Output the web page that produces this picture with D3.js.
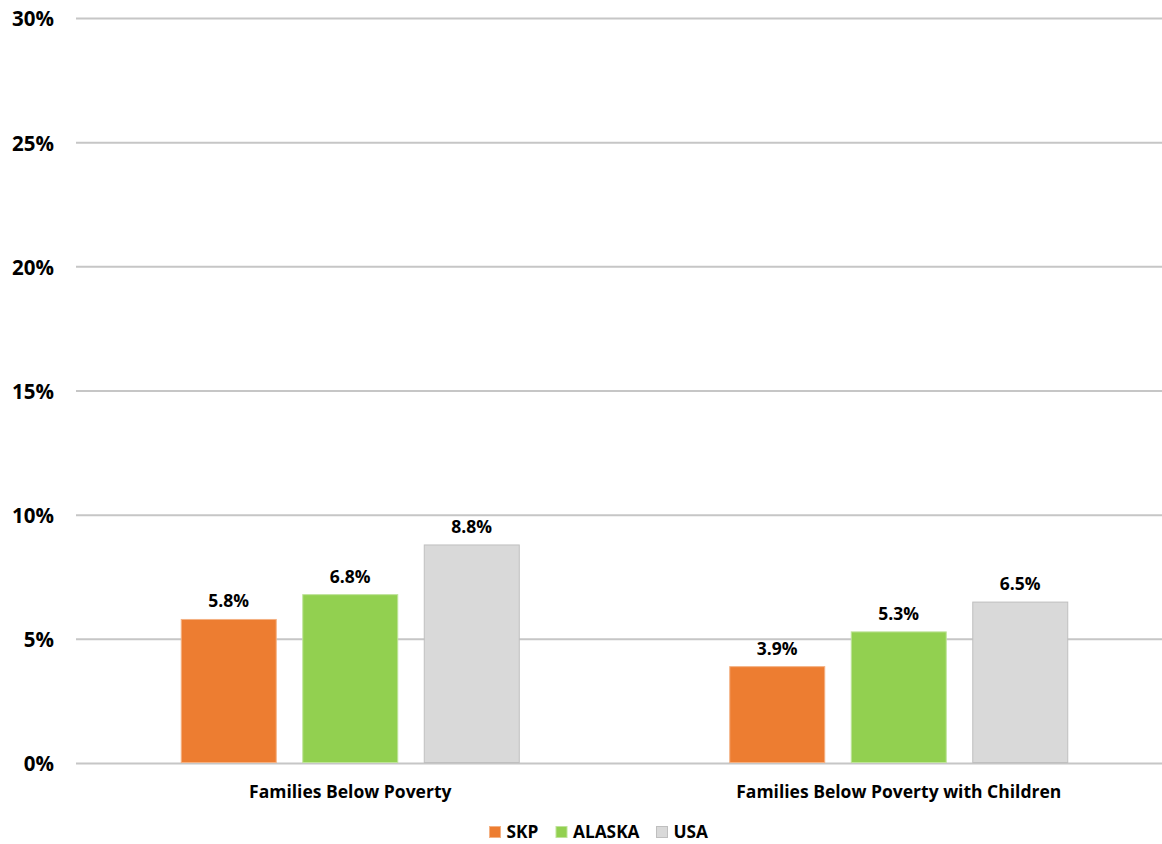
<!DOCTYPE html>
<html>
<head>
<meta charset="utf-8">
<script src="https://cdn.jsdelivr.net/npm/d3@7"></script>
<style>
  html, body { margin: 0; padding: 0; background: #ffffff; }
  svg { display: block; font-family: "Open Sans", Lato, sans-serif; font-weight: bold; }
</style>
</head>
<body>
<svg id="chart" width="1162" height="844"></svg>
<script>
// Family poverty rates by area
const categories = ["Families Below Poverty", "Families Below Poverty with Children"];
const seriesNames = ["SKP", "ALASKA", "USA"];
const skpValues = [5.8, 3.9];
const alaskaValues = [6.8, 5.3];
const usaValues = [8.8, 6.5];
const yTicks = [0, 5, 10, 15, 20, 25, 30];

const seriesValues = [skpValues, alaskaValues, usaValues];
const colors = { SKP: "#ED7D31", ALASKA: "#92D050", USA: "#D9D9D9" };
const strokes = { SKP: "#F4B183", ALASKA: "#BFE39A", USA: "#BFBFBF" };
const FONT = "'Open Sans', Lato, sans-serif";

const svg = d3.select("#chart");

const plot = { left: 76, right: 1173, top: 18.5, bottom: 763.5 };

const y = d3.scaleLinear().domain([0, 30]).range([plot.bottom, plot.top]);
const x0 = d3.scaleBand().domain(categories).range([plot.left, plot.right]).padding(0);
const x1 = d3.scaleBand().domain(seriesNames).range([0, x0.bandwidth()])
  .paddingInner(0.21).paddingOuter(0.862);

// Gridlines
svg.append("g").selectAll("line").data(yTicks).join("line")
  .attr("x1", plot.left).attr("x2", plot.right)
  .attr("y1", d => y(d)).attr("y2", d => y(d))
  .attr("stroke", "#C6C6C6").attr("stroke-width", 2);

// Y axis labels
const yAxis = d3.axisLeft(y).tickValues(yTicks).tickFormat(d => d + "%").tickSize(0).tickPadding(0);
const yg = svg.append("g").attr("transform", `translate(54,0)`).call(yAxis);
yg.select(".domain").remove();
yg.selectAll("text").attr("font-size", 20.5).attr("font-family", FONT)
  .attr("font-weight", "bold").attr("fill", "#000").attr("dy", "0.36em");

// Bars
const rows = categories.map((c, i) => ({ category: c, values: seriesNames.map((s, j) => ({ series: s, value: seriesValues[j][i] })) }));

const groups = svg.append("g").selectAll("g").data(rows).join("g")
  .attr("transform", d => `translate(${x0(d.category)},0)`);

groups.selectAll("rect").data(d => d.values).join("rect")
  .attr("x", d => x1(d.series) + 0.5)
  .attr("y", d => y(d.value))
  .attr("width", x1.bandwidth() - 1)
  .attr("height", d => y(0) - y(d.value) - 1)
  .attr("fill", d => colors[d.series])
  .attr("stroke", d => strokes[d.series])
  .attr("stroke-width", 1);

groups.selectAll("text").data(d => d.values).join("text")
  .attr("x", d => x1(d.series) + x1.bandwidth() / 2)
  .attr("y", d => y(d.value) - 12)
  .attr("text-anchor", "middle")
  .attr("font-size", 17.5)
  .attr("fill", "#000")
  .text(d => d.value.toFixed(1) + "%");

// Category labels
const xAxis = d3.axisBottom(x0).tickSize(0).tickPadding(0);
const xg = svg.append("g").attr("transform", `translate(0,${plot.bottom})`).call(xAxis);
xg.select(".domain").remove();
xg.selectAll("text").attr("font-size", 17.5).attr("font-family", FONT)
  .attr("font-weight", "bold").attr("fill", "#000").attr("dy", 0).attr("y", 34);

// Legend
const legendX = [489, 555.5, 656];
const legend = svg.append("g").selectAll("g").data(seriesNames).join("g")
  .attr("transform", (d, i) => `translate(${legendX[i]},826)`);
legend.append("rect").attr("x", 0.5).attr("y", 0.5).attr("width", 11).attr("height", 11)
  .attr("fill", d => colors[d]).attr("stroke", d => strokes[d]);
legend.append("text").attr("x", 17.5).attr("y", 11.5).attr("font-size", 17.3).attr("fill", "#000").text(d => d);
</script>
</body>
</html>
